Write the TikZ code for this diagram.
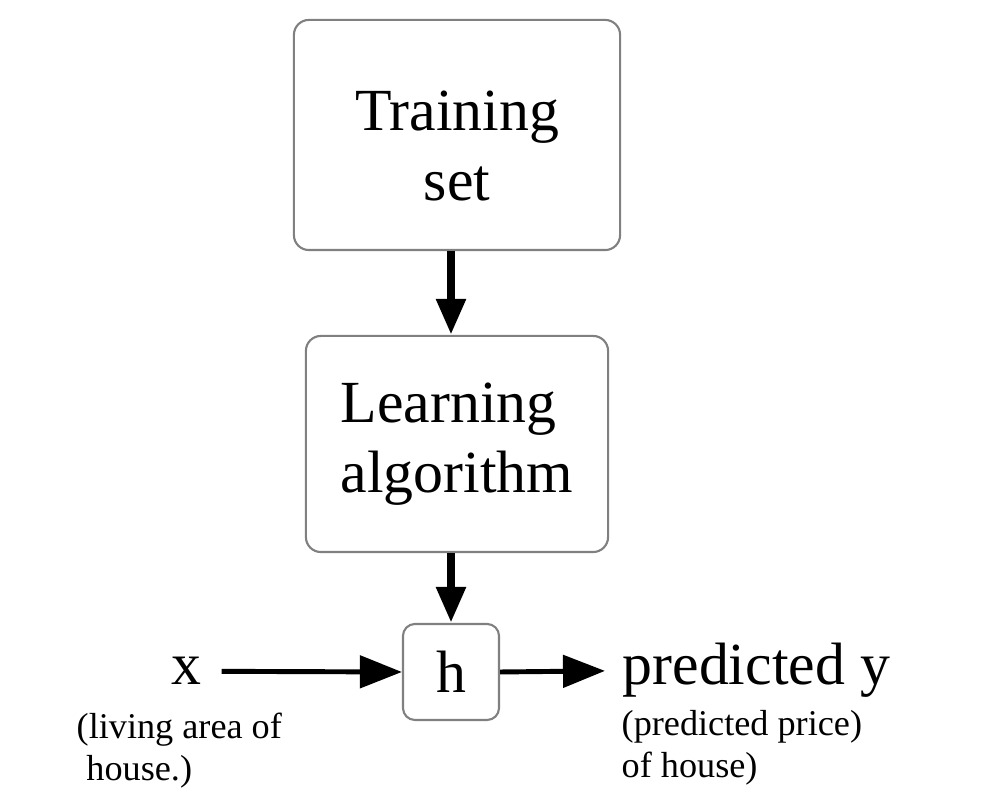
\documentclass[tikz,border=0pt]{standalone}
\usepackage{fontspec}
\setmainfont{Liberation Serif}
\usetikzlibrary{positioning, arrows.meta}

\begin{document}
\begin{tikzpicture}[x=0.01cm, y=-0.01cm,
box/.style={draw=black!50, line width=0.6pt, rounded corners=0.15cm, align=center,
 font=\fontsize{17}{20}\selectfont},
big/.style={font=\fontsize{17}{20}\selectfont, inner sep=0pt},
small/.style={font=\fontsize{10.3}{11.9}\selectfont, align=left, inner sep=0pt},
down/.style={-{Triangle[length=0.36cm, width=0.28cm]}, line width=2.4pt},
side/.style={-{Triangle[length=0.42cm, width=0.32cm]}, line width=1.4pt}]
 \useasboundingbox (0,0) rectangle (990,792);

 \node[box, minimum width=3.26cm, minimum height=2.3cm] (train) at (457,135) {\rule{0pt}{17.6pt}Training\\set};
 \node[box, align=left, minimum width=3.02cm, minimum height=2.16cm] (learn) at (457,444) {Learning\\algorithm};
 \node[box, minimum size=0.96cm, rounded corners=0.12cm] (h) at (451,672) {h};

 \node[big, anchor=base] (x) at (186,685) {x};
 \node[big, anchor=base west] (y) at (622,685) {predicted y};

 \node[small, anchor=north west] (xnote) at (76,712) {(living area of\\\hspace*{0.27em}house.)};
 \node[small, anchor=north west] (ynote) at (621,710) {(predicted price)\\of house)};

 \draw[down] (train.south -| h) -- (learn.north -| h);
 \draw[down] (learn.south -| h) -- (h);
 \draw[side, shorten <=0.2cm] (x.east) -- (h.west);
 \draw[side, shorten >=0.17cm] (h.east) -- (y.west);

\end{tikzpicture}
\end{document}
